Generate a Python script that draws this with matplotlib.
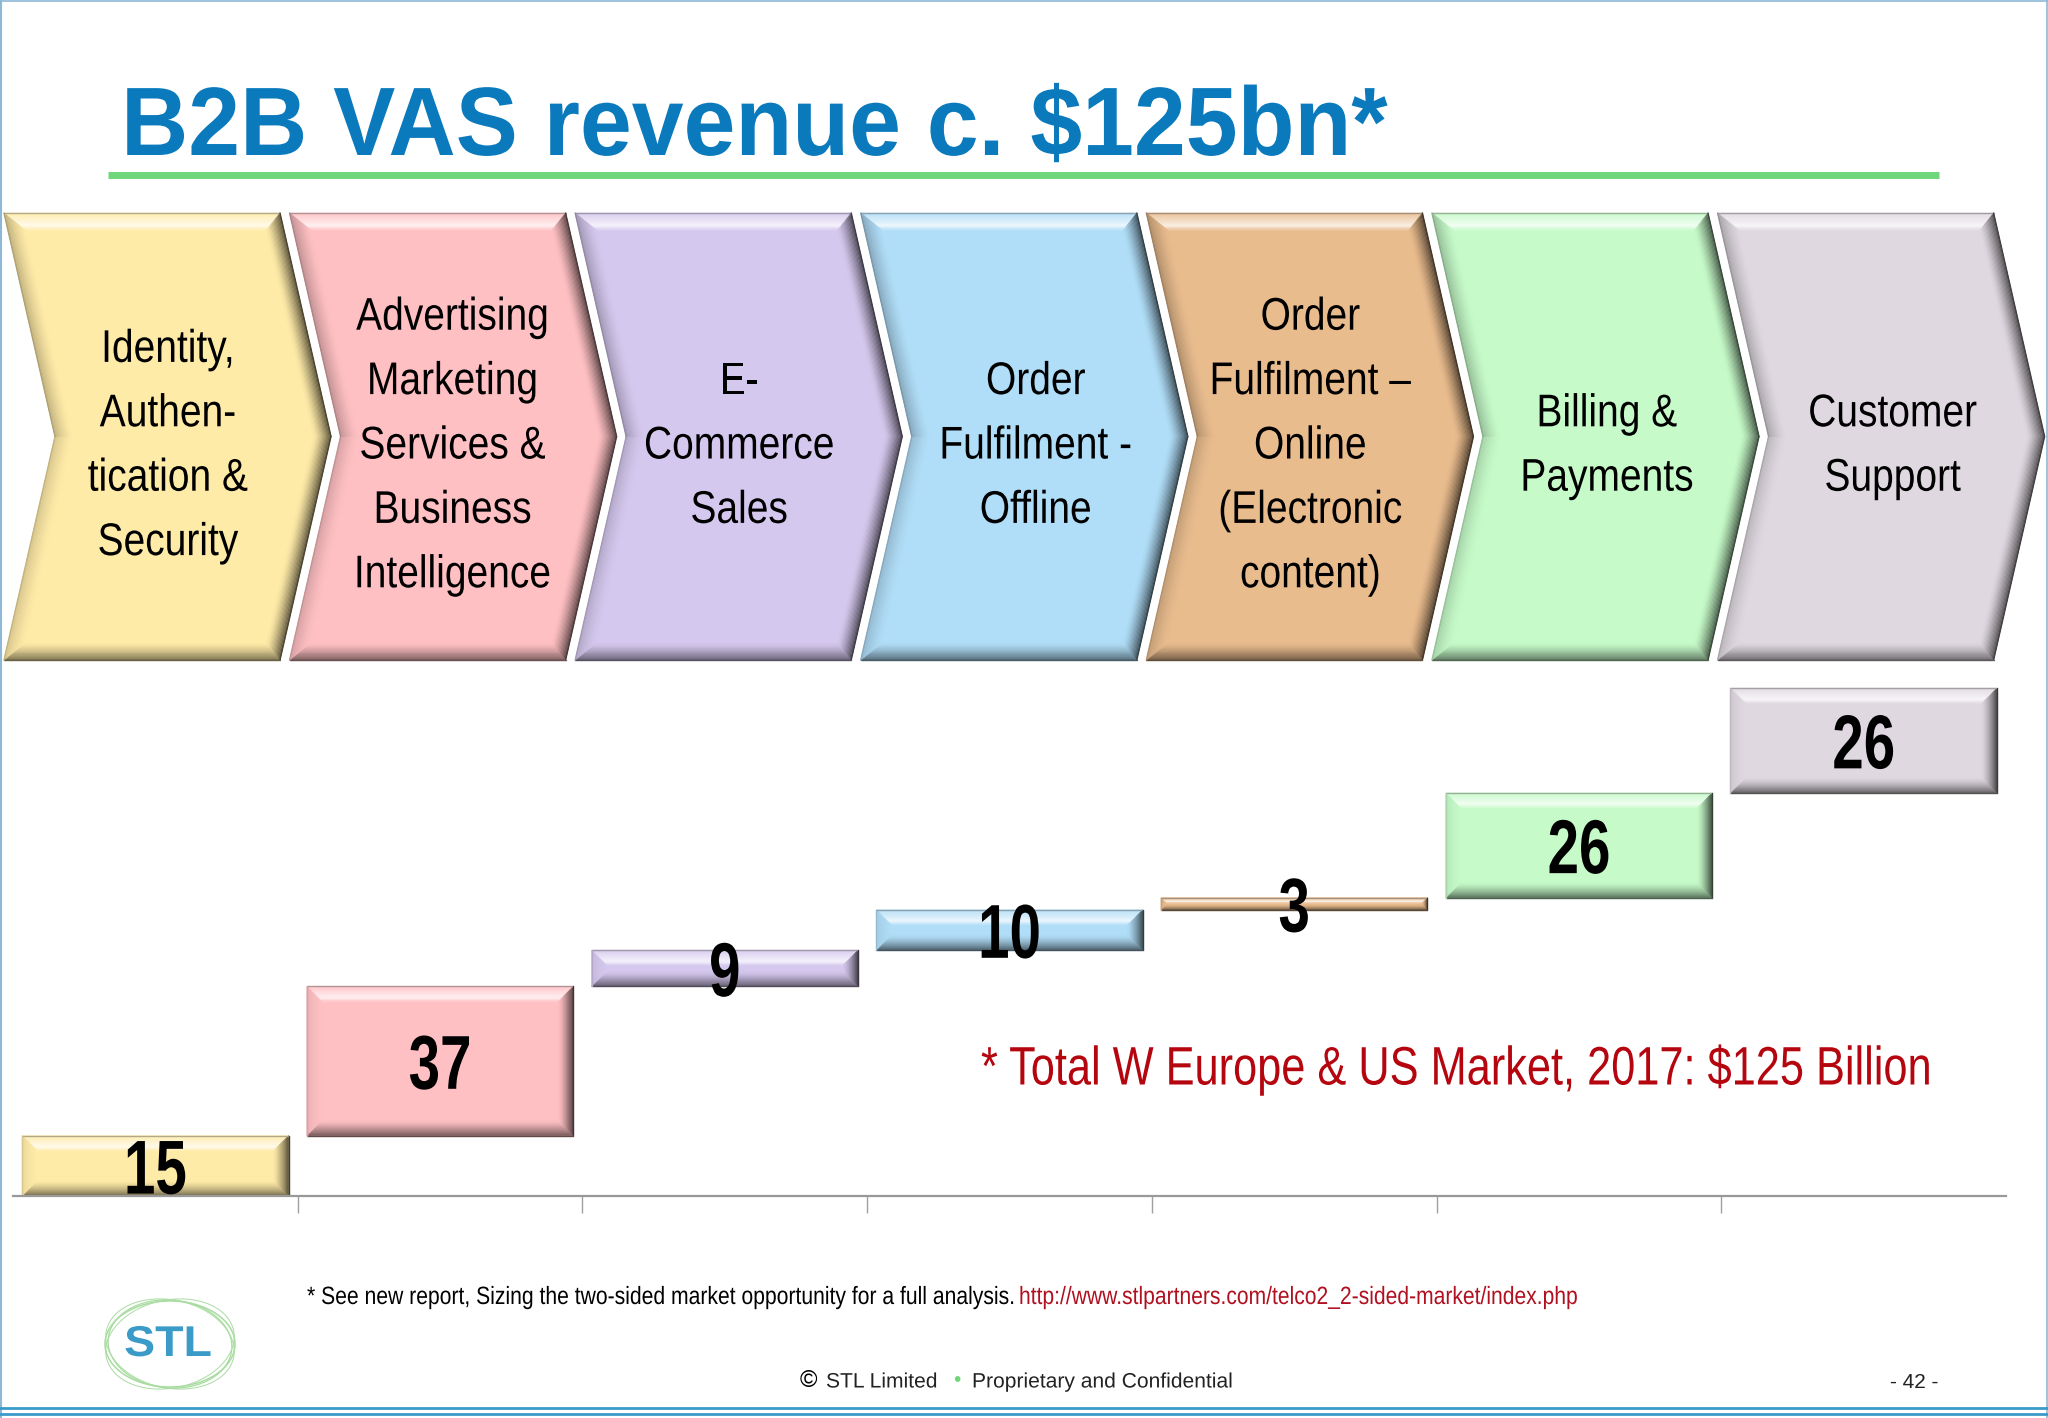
#!/usr/bin/env python3
# B2B VAS revenue slide: chevron header above a stepped waterfall
import numpy as np
import matplotlib
matplotlib.use('Agg')
import matplotlib.pyplot as plt
import matplotlib.patheffects as pe
from matplotlib.colors import to_rgb
from matplotlib.patches import Polygon, Ellipse
from matplotlib.transforms import Affine2D, Bbox

W, H = 2048, 1418
SANS = ['Liberation Sans', 'DejaVu Sans']

stages = ['Identity,\nAuthen-\ntication &\nSecurity',
          'Advertising\nMarketing\nServices &\nBusiness\nIntelligence',
          'E-\nCommerce\nSales',
          'Order\nFulfilment -\nOffline',
          'Order\nFulfilment \u2013\nOnline\n(Electronic\ncontent)',
          'Billing &\nPayments',
          'Customer\nSupport']
values = [15, 37, 9, 10, 3, 26, 26]
colors = ['#FFEBA8', '#FFC0C3', '#D5C8EE', '#B0DDF7', '#E9BC8E', '#C6FBC9', '#DFD8E0']
total_note = '* Total W Europe & US Market, 2017: $125 Billion'
label_shift = [1, 0, 1, 12, 1, 12, 12]

fig = plt.figure(figsize=(W / 100, H / 100), dpi=100, facecolor='white')
bg = fig.add_axes([0, 0, 1, 1], zorder=0)
bg.set_xlim(0, W)
bg.set_ylim(H, 0)
bg.axis('off')

# pixels counted from the top left, works on any axes
px = Affine2D().scale(1, -1).translate(0, H)


class Squeeze(pe.AbstractPathEffect):
    # the slide was stretched, so text is narrower than any installed face
    def __init__(self, sx, anchor_x):
        super().__init__()
        self.sx = sx
        self.anchor_x = anchor_x

    def draw_path(self, renderer, gc, tpath, affine, rgbFace=None):
        squeeze = Affine2D().translate(-self.anchor_x, 0).scale(self.sx, 1).translate(self.anchor_x, 0)
        renderer.draw_path(gc, tpath, affine + squeeze, rgbFace)


def squeeze_text(t, sx, anchor_x):
    t.set_path_effects([Squeeze(sx, anchor_x)])
    full_extent = t.get_window_extent

    # report the box of what is really drawn
    def extent(renderer=None, dpi=None):
        b = full_extent(renderer, dpi)
        return Bbox.from_extents(anchor_x + (b.x0 - anchor_x) * sx, b.y0,
                                 anchor_x + (b.x1 - anchor_x) * sx, b.y1)
    t.get_window_extent = extent
    return t


def label(x, y, s, sx, **kw):
    # x, y in page pixels
    return squeeze_text(bg.text(x, y, s, family=SANS, va='center', **kw), sx, x)


def inset(pts, d):
    # move every edge of a clockwise (y down) polygon inwards by d and re-intersect
    pts = np.asarray(pts, float)
    n = len(pts)
    out = []
    for i in range(n):
        p0, p1, p2 = pts[i - 1], pts[i], pts[(i + 1) % n]
        e1 = (p1 - p0) / np.hypot(*(p1 - p0))
        e2 = (p2 - p1) / np.hypot(*(p2 - p1))
        n1 = np.array([-e1[1], e1[0]])
        n2 = np.array([-e2[1], e2[0]])
        a = np.array([e1, -e2]).T
        t = np.linalg.solve(a, (p1 + n2 * d) - (p1 + n1 * d))
        out.append(p1 + n1 * d + e1 * t[0])
    return np.array(out)


def mix(c, other, a):
    return tuple(np.array(c) * (1 - a) + np.array(other) * a)


def bevel(ax, pts, fill, shades, depth, z=2):
    # shades: one number per edge, + goes to white, - goes to dark
    fill = to_rgb(fill)
    dark = tuple(np.array(fill) * 0.22)
    steps = 14
    ax.add_patch(Polygon(pts, closed=True, fc=fill, ec='none', transform=px, zorder=z))
    n = len(pts)
    for k in range(steps):
        t0, t1 = k / steps, (k + 1) / steps
        a = inset(pts, depth * t0)
        b = inset(pts, depth * t1)
        fade = (1 - t0) ** 1.4
        # highlight peaks near the inner edge of the band, then drops to the fill
        glow = 0.15 + 0.85 * t0 / 0.75 if t0 < 0.75 else (1 - t0) / 0.25
        for i in range(n):
            j = (i + 1) % n
            s = shades[i]
            col = mix(fill, dark, -s * fade) if s < 0 else mix(fill, (1, 1, 1), s * glow)
            ax.add_patch(Polygon([a[i], a[j], b[j], b[i]], closed=True, fc=col, ec=col, lw=0.4,
                                 transform=px, zorder=z + 0.1))
    # thin rim, only where the edge is not lit
    for i in range(n):
        j = (i + 1) % n
        s = shades[i]
        col = mix(fill, (0.4, 0.4, 0.4), 0.5) if s > 0 else mix(fill, dark, min(1, -s + 0.1))
        ax.plot([pts[i][0], pts[j][0]], [pts[i][1], pts[j][1]], color=col, lw=1.0,
                transform=px, zorder=z + 0.2, solid_capstyle='round')


# page frame
bg.plot([0.8, 0.8], [0, H], color='#8DB8D8', lw=1.5)
bg.plot([W - 1, W - 1], [0, H], color='#8DB8D8', lw=1.2)
bg.plot([0, W], [0.6, 0.6], color='#8DB8D8', lw=1.2)
bg.plot([0, W], [1408, 1408], color='#3A9AC8', lw=2.0)
bg.plot([0, W], [1413.5, 1413.5], color='#3A9AC8', lw=2.0)

# title
label(121, 130, 'B2B VAS revenue c. $125bn*', 0.958, weight='bold', fontsize=70,
      color='#0A7ABC', ha='left')
bg.plot([108, 1939], [175, 175], color='#6FD67A', lw=5, solid_capstyle='butt')

# chevrons
top, bottom = 213, 660
mid = (top + bottom) / 2
for i, (name, col, shift) in enumerate(zip(stages, colors, label_shift)):
    x0 = 4 + i * 285.6
    shape = [(x0, top), (x0 + 276, top), (x0 + 327, mid), (x0 + 276, bottom), (x0, bottom), (x0 + 51, mid)]
    bevel(bg, shape, col, [0.8, -0.8, -0.8, -0.65, -0.2, -0.3], 17)
    label(x0 + 163 + shift, mid + 10, name, 0.85, fontsize=33, color='black', ha='center',
          linespacing=1.6, zorder=5)

# stepped bars
ax = fig.add_axes([13 / W, (H - 1196) / H, 1993 / W, 524 / H], zorder=1)
ax.patch.set_alpha(0)
x = np.arange(len(values))
base = np.concatenate([[0], np.cumsum(values)[:-1]])
bars = ax.bar(x, values, bottom=base, width=0.936, color=colors, zorder=2)
ax.set_xlim(-0.5, 6.5)
ax.set_ylim(0, 130)
ax.set_yticks([])
ax.set_xticks(x[:-1] + 0.5)
ax.set_xticklabels([])
ax.tick_params(axis='x', length=12, width=1, color='#A0A0A0', direction='out')
for side in ('top', 'left', 'right'):
    ax.spines[side].set_visible(False)
ax.spines['bottom'].set_color('#999999')
ax.spines['bottom'].set_linewidth(1.6)

fig.canvas.draw()
for b, col in zip(bars, colors):
    (xa, ya), (xb, yb) = ax.transData.transform([(b.get_x(), b.get_y() + b.get_height()),
                                                 (b.get_x() + b.get_width(), b.get_y())])
    rect = [(xa, H - ya), (xb, H - ya), (xb, H - yb), (xa, H - yb)]
    bevel(ax, rect, col, [0.8, -0.85, -0.7, -0.1], min(15, (ya - yb) * 0.45))

for xi, b0, v in zip(x, base, values):
    xpix, ypix = ax.transData.transform((xi, b0 + v / 2))
    t = ax.annotate(str(v), (xi, b0 + v / 2), xytext=(0, -6), textcoords='offset points',
                    family=SANS, weight='bold', fontsize=55, color='black',
                    ha='center', va='center', zorder=6)
    squeeze_text(t, 0.74, xpix)

# notes
label(981, 1070, total_note, 0.80, fontsize=39, color='#B5050F', ha='left', zorder=5)
label(307, 1297, '* See new report, Sizing the two-sided market opportunity for a full analysis.',
      0.845, fontsize=18, color='black', ha='left')
label(1019, 1297, 'http://www.stlpartners.com/telco2_2-sided-market/index.php',
      0.843, fontsize=18, color='#B01020', ha='left')

# footer
bg.text(800, 1381, '\u00a9', family=SANS, fontsize=17, color='black', ha='left', va='center')
label(826, 1382, 'STL Limited', 1.01, fontsize=15, color='#222222', ha='left')
bg.text(957, 1380, '\u2022', family=SANS, fontsize=15, color='#6FD67A', ha='center', va='center')
label(972, 1382, 'Proprietary and Confidential', 1.01, fontsize=15, color='#222222', ha='left')
bg.text(1914, 1382, '- 42 -', family=SANS, fontsize=15, color='#222222', ha='center', va='center')

# logo
for ang, rx, ry, lw in [(0, 65, 43, 1.1), (12, 65, 44, 0.7), (-12, 65, 44, 0.7), (5, 62, 44, 0.9)]:
    bg.add_patch(Ellipse((170, 1344), rx * 2, ry * 2, angle=ang, fc='none', ec='#A8DCA0', lw=lw))
label(168, 1345, 'STL', 1.08, weight='bold', fontsize=31, color='#3A9AC8', ha='center')

fig.savefig('out.png', dpi=100)
